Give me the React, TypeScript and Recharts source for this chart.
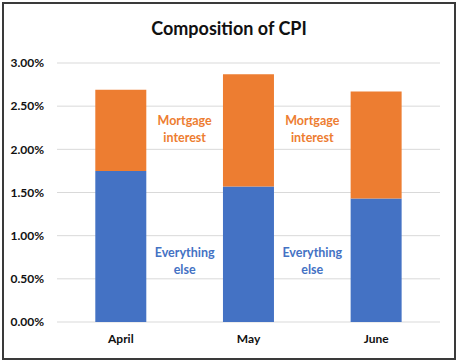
import React from 'react'
import { Bar, BarChart, CartesianGrid, LabelList, XAxis, YAxis } from 'recharts'

const months = ['April', 'May', 'June']
const everythingElse = [0.0175, 0.0157, 0.0143]
const mortgageInterest = [0.0094, 0.013, 0.0124]
const yTicks = [0, 0.005, 0.01, 0.015, 0.02, 0.025, 0.03]

const data = months.map((m, i) => ({
  name: m,
  other: everythingElse[i],
  mortgage: mortgageInterest[i],
}))

const W = 458
const H = 364
const margin = { top: 63, right: 18, bottom: 12, left: 10 }
const yAxisWidth = 47
const step = (W - margin.left - margin.right - yAxisWidth) / months.length

const font = 'Lato, "Open Sans", sans-serif'
const BLUE = '#4472C4'
const ORANGE = '#ED7D31'

// annotation between bars, placed from the (zero-based) blue bar geometry
const makeNote = (lines: string[], color: string, level: number) => (props: any) => {
  const { x, y, width, height, value, index } = props
  if (index > 1) return null
  const base = y + height
  const perUnit = height / value
  const cx = x + width / 2 + step / 2
  const cy = base - level * perUnit
  return (
    <text x={cx} y={cy} textAnchor="middle" fill={color} fontFamily={font} fontWeight={700} fontSize={12.5}>
      {lines.map((l, k) => (
        <tspan key={k} x={cx} dy={k === 0 ? -4 : 17}>{l}</tspan>
      ))}
    </text>
  )
}

const App = () => {
  return (
    <div style={{ position: 'absolute', left: 0, top: 0, width: W, height: H, background: '#fff' }}>
      <div
        style={{
          position: 'absolute', left: 2, top: 2, width: 454, height: 358,
          border: '2px solid #3a3a3a', boxSizing: 'border-box',
        }}
      />
      <div
        style={{
          position: 'absolute', left: 0, top: 17, width: W, textAlign: 'center',
          fontFamily: font, fontWeight: 700, fontSize: 18, color: '#111',
        }}
      >
        Composition of CPI
      </div>
      <div style={{ position: 'absolute', left: 0, top: 0 }}>
        <BarChart width={W} height={H} data={data} margin={margin} barCategoryGap="30%">
          <CartesianGrid vertical={false} stroke="#d9d9d9" />
          <XAxis
            dataKey="name"
            axisLine={false}
            tickLine={false}
            tickSize={0}
            tickMargin={12}
            tick={{ fill: '#111', fontFamily: font, fontWeight: 700, fontSize: 12 }}
          />
          <YAxis
            width={yAxisWidth}
            domain={[0, 0.03]}
            ticks={yTicks}
            axisLine={false}
            tickLine={false}
            tickSize={0}
            tickMargin={13}
            tickFormatter={(v: number) => (v * 100).toFixed(2) + '%'}
            tick={{ fill: '#111', fontFamily: font, fontWeight: 700, fontSize: 12 }}
          />
          <Bar dataKey="other" stackId="a" fill={BLUE} isAnimationActive={false}>
            <LabelList dataKey="other" content={makeNote(['Everything', 'else'], BLUE, 0.0071)} />
            <LabelList dataKey="other" content={makeNote(['Mortgage', 'interest'], ORANGE, 0.0223)} />
          </Bar>
          <Bar dataKey="mortgage" stackId="a" fill={ORANGE} isAnimationActive={false} />
        </BarChart>
      </div>
    </div>
  )
}

export default App
